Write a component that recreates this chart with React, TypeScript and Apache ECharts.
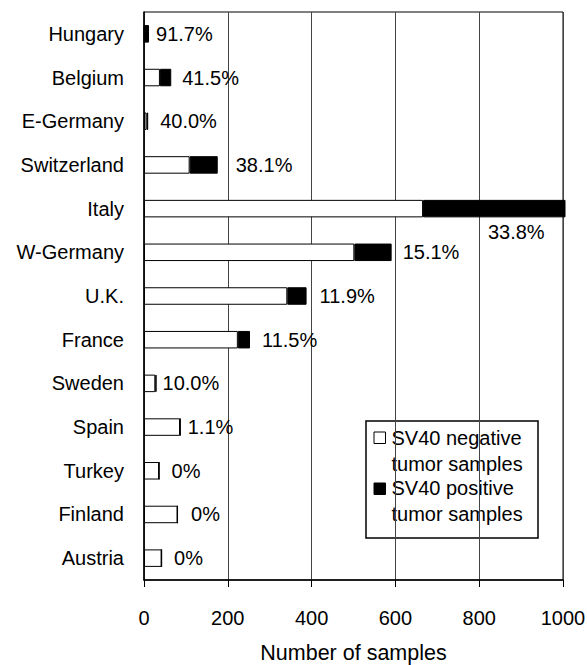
import React, { useEffect, useRef } from "react";
import * as echarts from "echarts";

const categories = [
  "Hungary", "Belgium", "E-Germany", "Switzerland", "Italy", "W-Germany",
  "U.K.", "France", "Sweden", "Spain", "Turkey", "Finland", "Austria",
];
const negativeSamples = [1, 38, 6, 109, 666, 502, 342, 224, 27, 86, 36, 80, 42];
const positiveSamples = [11, 27, 4, 67, 340, 89, 46, 29, 3, 1, 0, 0, 0];
const positiveRates = [
  "91.7%", "41.5%", "40.0%", "38.1%", "33.8%", "15.1%", "11.9%",
  "11.5%", "10.0%", "1.1%", "0%", "0%", "0%",
];
const xMin = 0;
const xMax = 1000;
const xInterval = 200;
const legendLines = [
  ["SV40 negative", "tumor samples"],
  ["SV40 positive", "tumor samples"],
];
const axisTitle = "Number of samples";

// label spacing (style only)
const labelGap: Record<string, number> = {
  Hungary: 7, Belgium: 11, "E-Germany": 12, Switzerland: 18, "W-Germany": 11,
  "U.K.": 13, France: 12, Sweden: 6, Spain: 7, Turkey: 12, Finland: 13, Austria: 12,
};

const FONT = "'Liberation Sans', Arial, sans-serif";

export default function App() {
  const ref = useRef<HTMLDivElement>(null);
  useEffect(() => {
    if (!ref.current) return;
    document.body.style.margin = "0";
    const chart = echarts.init(ref.current, null, { renderer: "svg" });
    const posData = positiveSamples.map((v, i) => {
      const name = categories[i];
      if (name === "Italy") {
        return {
          value: v,
          label: { show: true, position: "bottom", distance: 5, offset: [22, 0] },
        };
      }
      return {
        value: v,
        label: { show: true, position: "right", distance: labelGap[name] ?? 10 },
      };
    });
    const lx = 366, ly = 421;
    chart.setOption({
      animation: false,
      grid: {
        left: 144, right: 24, top: 12, bottom: 85,
        outerBoundsMode: "none", containLabel: false,
        show: true, borderColor: "#000", borderWidth: 1, backgroundColor: "transparent",
      },
      xAxis: {
        type: "value", min: xMin, max: xMax, interval: xInterval,
        axisLine: { show: true, lineStyle: { color: "#000", width: 1.5 } },
        axisTick: { show: true, length: 7, lineStyle: { color: "#000", width: 1 } },
        axisLabel: {
          color: "#000", fontFamily: FONT, fontSize: 20, margin: 28,
          formatter: (v: number) => String(v),
        },
        splitLine: { show: true, lineStyle: { color: "#444", width: 1 } },
        name: axisTitle, nameLocation: "middle", nameGap: 62,
        nameTextStyle: { color: "#000", fontFamily: FONT, fontSize: 21.5 },
      },
      yAxis: {
        type: "category", data: categories, inverse: true,
        axisLine: { show: true, lineStyle: { color: "#000", width: 1.5 } },
        axisTick: { show: false },
        axisLabel: { color: "#000", fontFamily: FONT, fontSize: 20, margin: 20 },
        splitLine: { show: false },
      },
      series: [
        {
          name: "SV40 negative tumor samples", type: "bar", stack: "total",
          data: negativeSamples, barWidth: 17.5, clip: false,
          itemStyle: { color: "#fff", borderColor: "#000", borderWidth: 1 },
        },
        {
          name: "SV40 positive tumor samples", type: "bar", stack: "total",
          data: posData, barWidth: 17.5, clip: false,
          itemStyle: { color: "#000", borderColor: "#000", borderWidth: 1 },
          label: {
            show: true, color: "#000", fontFamily: FONT, fontSize: 20,
            formatter: (p: any) => positiveRates[p.dataIndex],
          },
        },
      ],
      graphic: [
        {
          type: "group", z: 100,
          children: [
            {
              type: "rect", x: lx, y: ly, shape: { width: 172, height: 117 },
              style: { fill: "#fff", stroke: "#000", lineWidth: 1.5 },
            },
            {
              type: "rect", x: lx + 8, y: ly + 11, shape: { width: 11.5, height: 11.5 },
              style: { fill: "#fff", stroke: "#000", lineWidth: 1 },
            },
            {
              type: "rect", x: lx + 8, y: ly + 62, shape: { width: 11.5, height: 11.5 },
              style: { fill: "#000", stroke: "#000", lineWidth: 1 },
            },
            ...legendLines.flatMap((lines, k) =>
              lines.map((t, j) => ({
                type: "text", x: lx + 25.5, y: ly + 17 + k * 50 + j * 25.5,
                style: {
                  text: t, fill: "#000", font: `20px ${FONT}`,
                  textVerticalAlign: "middle", verticalAlign: "middle",
                },
              }))
            ),
          ],
        },
      ],
    });
    return () => chart.dispose();
  }, []);
  return <div ref={ref} style={{ width: 587, height: 665 }} />;
}
